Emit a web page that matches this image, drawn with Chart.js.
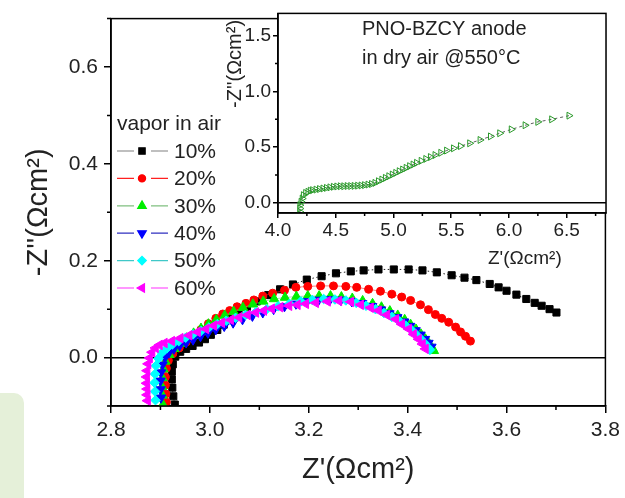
<!DOCTYPE html>
<html>
<head>
<meta charset="utf-8">
<script src="https://cdn.jsdelivr.net/npm/chart.js@4.4.1/dist/chart.umd.min.js"></script>
<style>
  html, body { margin: 0; padding: 0; background: #fff; }
  #wrap { position: relative; width: 625px; height: 498px; overflow: hidden; }
  #tab { position: absolute; left: -12px; top: 393px; width: 36px; height: 130px; background: #e5f0d9; border-radius: 10px; }
  #main { position: absolute; left: 0; top: 0; }
  #inset { position: absolute; left: 220px; top: 0; }
</style>
</head>
<body>
<div id="wrap">
  <div id="tab"></div>
  <canvas id="main" width="625" height="498"></canvas>
  <canvas id="inset" width="405" height="280"></canvas>
</div>
<script>
// -------------------------
// Data
// -------------------------
const SERIES_NAMES = ["10%", "20%", "30%", "40%", "50%", "60%"];

const zr10 = [2.929, 2.926, 2.924, 2.923, 2.923, 2.925, 2.930, 2.940, 2.952, 2.965, 2.978, 2.990, 3.002, 3.015, 3.028, 3.042, 3.058, 3.075, 3.095, 3.118, 3.142, 3.168, 3.196, 3.226, 3.255, 3.285, 3.311, 3.341, 3.372, 3.402, 3.430, 3.459, 3.489, 3.515, 3.539, 3.566, 3.584, 3.600, 3.620, 3.640, 3.657, 3.671, 3.687, 3.701];
const zi10 = [-0.097, -0.080, -0.062, -0.045, -0.029, -0.014, 0.002, 0.012, 0.018, 0.024, 0.031, 0.038, 0.047, 0.057, 0.068, 0.080, 0.092, 0.104, 0.116, 0.129, 0.141, 0.151, 0.161, 0.168, 0.174, 0.178, 0.180, 0.182, 0.182, 0.182, 0.180, 0.176, 0.170, 0.165, 0.160, 0.152, 0.145, 0.138, 0.130, 0.121, 0.113, 0.107, 0.100, 0.093];

const zr20 = [2.912, 2.911, 2.910, 2.910, 2.912, 2.916, 2.925, 2.938, 2.952, 2.967, 2.982, 2.997, 3.012, 3.026, 3.040, 3.055, 3.073, 3.089, 3.107, 3.127, 3.151, 3.174, 3.198, 3.224, 3.250, 3.275, 3.297, 3.321, 3.345, 3.368, 3.388, 3.406, 3.426, 3.442, 3.456, 3.469, 3.483, 3.497, 3.507, 3.517, 3.527];
const zi20 = [-0.092, -0.075, -0.057, -0.040, -0.022, -0.006, 0.008, 0.020, 0.032, 0.045, 0.058, 0.070, 0.081, 0.090, 0.097, 0.105, 0.112, 0.119, 0.127, 0.133, 0.139, 0.145, 0.147, 0.148, 0.148, 0.147, 0.145, 0.141, 0.137, 0.131, 0.125, 0.118, 0.109, 0.099, 0.089, 0.081, 0.073, 0.063, 0.053, 0.044, 0.034];

const zr30 = [2.905, 2.904, 2.903, 2.904, 2.906, 2.910, 2.918, 2.928, 2.940, 2.953, 2.967, 2.982, 2.997, 3.013, 3.030, 3.048, 3.067, 3.087, 3.108, 3.130, 3.152, 3.175, 3.198, 3.221, 3.244, 3.266, 3.288, 3.309, 3.329, 3.347, 3.364, 3.380, 3.394, 3.406, 3.417, 3.427, 3.436, 3.444, 3.450, 3.453];
const zi30 = [-0.097, -0.078, -0.060, -0.042, -0.024, -0.008, 0.006, 0.018, 0.029, 0.040, 0.050, 0.060, 0.069, 0.078, 0.087, 0.095, 0.103, 0.110, 0.116, 0.121, 0.124, 0.126, 0.127, 0.127, 0.127, 0.125, 0.122, 0.117, 0.111, 0.104, 0.096, 0.087, 0.078, 0.068, 0.058, 0.048, 0.038, 0.028, 0.019, 0.014];

const zr40 = [2.901, 2.900, 2.900, 2.901, 2.904, 2.909, 2.917, 2.927, 2.939, 2.952, 2.966, 2.981, 2.996, 3.012, 3.029, 3.047, 3.066, 3.086, 3.107, 3.129, 3.151, 3.174, 3.197, 3.220, 3.243, 3.265, 3.287, 3.308, 3.328, 3.346, 3.363, 3.379, 3.393, 3.405, 3.416, 3.426, 3.435, 3.442, 3.448];
const zi40 = [-0.083, -0.066, -0.048, -0.031, -0.015, 0.000, 0.010, 0.018, 0.025, 0.031, 0.037, 0.044, 0.051, 0.058, 0.065, 0.072, 0.079, 0.086, 0.093, 0.100, 0.106, 0.111, 0.116, 0.119, 0.120, 0.119, 0.116, 0.112, 0.106, 0.099, 0.091, 0.083, 0.074, 0.065, 0.056, 0.047, 0.038, 0.030, 0.022];

const zr50 = [2.890, 2.889, 2.888, 2.889, 2.891, 2.896, 2.903, 2.913, 2.924, 2.937, 2.951, 2.966, 2.982, 2.998, 3.015, 3.033, 3.052, 3.072, 3.093, 3.115, 3.138, 3.161, 3.184, 3.207, 3.230, 3.253, 3.275, 3.296, 3.316, 3.335, 3.352, 3.368, 3.383, 3.396, 3.408, 3.418, 3.427, 3.435, 3.441, 3.445];
const zi50 = [-0.088, -0.070, -0.052, -0.034, -0.017, -0.002, 0.010, 0.019, 0.027, 0.034, 0.041, 0.048, 0.055, 0.062, 0.069, 0.076, 0.082, 0.088, 0.094, 0.100, 0.106, 0.111, 0.116, 0.119, 0.121, 0.120, 0.118, 0.113, 0.107, 0.100, 0.092, 0.084, 0.075, 0.066, 0.057, 0.047, 0.038, 0.029, 0.021, 0.016];

const zr60 = [2.874, 2.873, 2.873, 2.872, 2.872, 2.873, 2.875, 2.878, 2.883, 2.890, 2.898, 2.908, 2.923, 2.940, 2.958, 2.975, 2.992, 3.008, 3.024, 3.042, 3.059, 3.076, 3.093, 3.109, 3.125, 3.142, 3.160, 3.177, 3.194, 3.214, 3.238, 3.261, 3.285, 3.305, 3.325, 3.341, 3.358, 3.376, 3.388, 3.402, 3.412, 3.422, 3.430, 3.436];
const zi60 = [-0.089, -0.077, -0.065, -0.053, -0.040, -0.027, -0.013, -0.001, 0.011, 0.020, 0.026, 0.030, 0.034, 0.040, 0.046, 0.053, 0.059, 0.066, 0.072, 0.078, 0.083, 0.088, 0.093, 0.097, 0.101, 0.104, 0.107, 0.109, 0.111, 0.113, 0.116, 0.117, 0.115, 0.109, 0.103, 0.097, 0.088, 0.079, 0.069, 0.059, 0.048, 0.038, 0.028, 0.018];

// inset: dry air @550C
const zrDry = [4.19, 4.19, 4.19, 4.20, 4.21, 4.22, 4.24, 4.26, 4.28, 4.30, 4.33, 4.36, 4.39, 4.42, 4.45, 4.48, 4.51, 4.54, 4.57, 4.60, 4.63, 4.66, 4.69, 4.72, 4.75, 4.78, 4.81, 4.84, 4.87, 4.90, 4.93, 4.96, 4.99, 5.02, 5.05, 5.08, 5.11, 5.14, 5.17, 5.20, 5.24, 5.28, 5.32, 5.36, 5.41, 5.46, 5.52, 5.58, 5.66, 5.75, 5.84, 5.92, 6.02, 6.14, 6.25, 6.37, 6.52];
const ziDry = [-0.08, -0.05, -0.02, 0.01, 0.04, 0.07, 0.09, 0.10, 0.11, 0.115, 0.12, 0.125, 0.13, 0.135, 0.14, 0.145, 0.148, 0.15, 0.15, 0.152, 0.152, 0.153, 0.155, 0.157, 0.16, 0.165, 0.17, 0.18, 0.195, 0.21, 0.225, 0.24, 0.255, 0.27, 0.285, 0.30, 0.315, 0.33, 0.345, 0.36, 0.378, 0.395, 0.412, 0.43, 0.45, 0.47, 0.49, 0.51, 0.535, 0.565, 0.597, 0.625, 0.66, 0.697, 0.727, 0.75, 0.783];

// tick labels
const MAIN_X_TICKS = [2.8, 3.0, 3.2, 3.4, 3.6, 3.8];
const MAIN_X_MINOR = [2.9, 3.1, 3.3, 3.5, 3.7];
const MAIN_Y_TICKS = [0.0, 0.2, 0.4, 0.6];
const MAIN_Y_MINOR = [-0.1, 0.1, 0.3, 0.5, 0.7];
const INSET_X_TICKS = [4.0, 4.5, 5.0, 5.5, 6.0, 6.5];
const INSET_X_MINOR = [4.25, 4.75, 5.25, 5.75, 6.25, 6.75];
const INSET_Y_TICKS = [0.0, 0.5, 1.0, 1.5];
const INSET_Y_MINOR = [0.25, 0.75, 1.25];

// -------------------------
// Styles
// -------------------------
const FONT = '"Liberation Sans", Arial, sans-serif';
const TEXT = "#222";
const markColors = ["#000000", "#ff0000", "#00ee00", "#0000ff", "#00ffff", "#ff00ff"];
const lineColors = ["#808080", "#ff2020", "#80c080", "#3030c0", "#40c8c8", "#ff30ff"];
const shapes = ["rect", "circle", "triangle", "triangle", "rectRot", "triangle"];
const rotations = [0, 0, 0, 180, 0, -90];
const radii = [5, 4, 5.5, 5.5, 4.8, 5.5];

const allReal = [zr10, zr20, zr30, zr40, zr50, zr60];
const allImag = [zi10, zi20, zi30, zi40, zi50, zi60];

const toPoints = (xs, ys) => xs.map((x, i) => ({ x, y: ys[i] }));
const fixedTicks = values => scale => { scale.ticks = values.map(v => ({ value: v })); };

// frame + minor ticks
function framePlugin(id, minorX, minorY, len, fillWhite) {
  return {
    id,
    beforeDraw(chart) {
      if (!fillWhite) return;
      const a = chart.chartArea;
      chart.ctx.save();
      chart.ctx.fillStyle = "#fff";
      chart.ctx.fillRect(a.left, a.top, a.right - a.left, a.bottom - a.top);
      chart.ctx.restore();
    },
    afterDraw(chart) {
      const { ctx, chartArea: a } = chart;
      const { x, y } = chart.scales;
      ctx.save();
      ctx.strokeStyle = "#000";
      ctx.lineWidth = 1.5;
      ctx.strokeRect(a.left, a.top, a.right - a.left, a.bottom - a.top);
      ctx.beginPath();
      minorX.forEach(v => {
        const px = x.getPixelForValue(v);
        ctx.moveTo(px, a.bottom); ctx.lineTo(px, a.bottom + len);
      });
      minorY.forEach(v => {
        const py = y.getPixelForValue(v);
        ctx.moveTo(a.left, py); ctx.lineTo(a.left - len, py);
      });
      ctx.stroke();
      ctx.restore();
    }
  };
}

function axis(min, max, ticks, size, tickLen, pad, fit, zeroLine) {
  return {
    type: "linear", min, max,
    afterBuildTicks: fixedTicks(ticks),
    afterFit: fit,
    ticks: { font: { family: FONT, size }, color: TEXT, padding: pad, autoSkip: false, maxRotation: 0, callback: v => v.toFixed(1) },
    grid: {
      drawOnChartArea: zeroLine,
      color: c => (zeroLine && c.tick && c.tick.value === 0 ? "#000" : "rgba(0,0,0,0)"),
      lineWidth: 1.5,
      tickLength: tickLen, tickColor: "#000", tickWidth: 1.5
    },
    border: { display: true, color: "#000", width: 1.5 }
  };
}

// -------------------------
// Legend (inside main plot)
// -------------------------
const legendPlugin = {
  id: "vaporLegend",
  afterDraw(chart) {
    const ctx = chart.ctx;
    ctx.save();
    ctx.fillStyle = TEXT;
    ctx.font = `21px ${FONT}`;
    ctx.textBaseline = "middle";
    ctx.fillText("vapor in air", 117, 124);
    SERIES_NAMES.forEach((name, i) => {
      const yy = 151 + i * 27.4;
      ctx.strokeStyle = lineColors[i];
      ctx.lineWidth = 1.2;
      ctx.beginPath();
      ctx.moveTo(117, yy); ctx.lineTo(134, yy);
      ctx.moveTo(151, yy); ctx.lineTo(168, yy);
      ctx.stroke();
      ctx.fillStyle = markColors[i];
      ctx.strokeStyle = markColors[i];
      Chart.helpers.drawPoint(ctx, { pointStyle: shapes[i], radius: radii[i] * 0.9, rotation: rotations[i], borderWidth: 1 }, 142, yy);
      ctx.fillStyle = TEXT;
      ctx.fillText(name, 174, yy + 1);
    });
    ctx.restore();
  }
};

// -------------------------
// Main chart
// -------------------------
const mainDatasets = SERIES_NAMES.map((name, i) => ({
  label: name,
  data: toPoints(allReal[i], allImag[i]),
  showLine: true,
  borderColor: i === 0 ? "#222" : lineColors[i],
  borderWidth: i === 0 ? 1 : 0.6,
  borderDash: i === 0 ? [1.5, 2.5] : [],
  pointStyle: shapes[i],
  rotation: rotations[i],
  pointRadius: radii[i],
  pointBackgroundColor: markColors[i],
  pointBorderColor: markColors[i],
  pointBorderWidth: 1,
  order: SERIES_NAMES.length - i
}));

const mainX = axis(2.8, 3.8, MAIN_X_TICKS, 21, 7, 5, s => { s.height = 92; }, false);
mainX.title = { display: true, text: "Z'(Ωcm²)", font: { family: FONT, size: 29 }, color: TEXT, padding: 11 };
const mainY = axis(-0.1, 0.7, MAIN_Y_TICKS, 21, 7, 6, s => { s.width = 111; }, true);
mainY.title = { display: true, text: "-Z''(Ωcm²)", font: { family: FONT, size: 29 }, color: TEXT, padding: 22 };

new Chart(document.getElementById("main"), {
  type: "scatter",
  data: { datasets: mainDatasets },
  options: {
    responsive: false, animation: false, devicePixelRatio: 1,
    layout: { padding: { top: 9, right: 19, left: 0, bottom: 0 }, autoPadding: false },
    plugins: { legend: { display: false }, tooltip: { enabled: false } },
    scales: { x: mainX, y: mainY }
  },
  plugins: [framePlugin("mainFrame", MAIN_X_MINOR, MAIN_Y_MINOR, 4, false), legendPlugin]
});

// -------------------------
// Inset chart
// -------------------------
const insetText = {
  id: "insetText",
  afterDraw(chart) {
    const ctx = chart.ctx;
    ctx.save();
    ctx.fillStyle = TEXT;
    ctx.textBaseline = "middle";
    ctx.font = `20px ${FONT}`;
    ctx.fillText("PNO-BZCY anode", 142, 29);
    ctx.fillText("in dry air @550°C", 142, 58);
    ctx.font = `19px ${FONT}`;
    ctx.fillText("Z'(Ωcm²)", 268, 259);
    ctx.font = `20px ${FONT}`;
    ctx.translate(15, 108);
    ctx.rotate(-Math.PI / 2);
    ctx.fillText("-Z''(Ωcm²)", 0, 0);
    ctx.restore();
  }
};

const insetX = axis(4.0, 6.84, INSET_X_TICKS, 19, 5, 1, s => { s.height = 67; }, false);
const insetY = axis(-0.09, 1.7, INSET_Y_TICKS, 19, 5, 2, s => { s.width = 58; }, true);

new Chart(document.getElementById("inset"), {
  type: "scatter",
  data: {
    datasets: [{
      label: "dry air",
      data: toPoints(zrDry, ziDry),
      showLine: true,
      borderColor: "#333",
      borderWidth: 0.8,
      borderDash: [3, 3],
      pointStyle: "triangle",
      rotation: 90,
      pointRadius: 4,
      pointBackgroundColor: "rgba(0,0,0,0)",
      pointBorderColor: "#2a9a2a",
      pointBorderWidth: 1
    }]
  },
  options: {
    responsive: false, animation: false, devicePixelRatio: 1,
    layout: { padding: { top: 8, right: 19, left: 0, bottom: 0 }, autoPadding: false },
    plugins: { legend: { display: false }, tooltip: { enabled: false } },
    scales: { x: insetX, y: insetY }
  },
  plugins: [framePlugin("insetFrame", INSET_X_MINOR, INSET_Y_MINOR, 3, true), insetText]
});
</script>
</body>
</html>
